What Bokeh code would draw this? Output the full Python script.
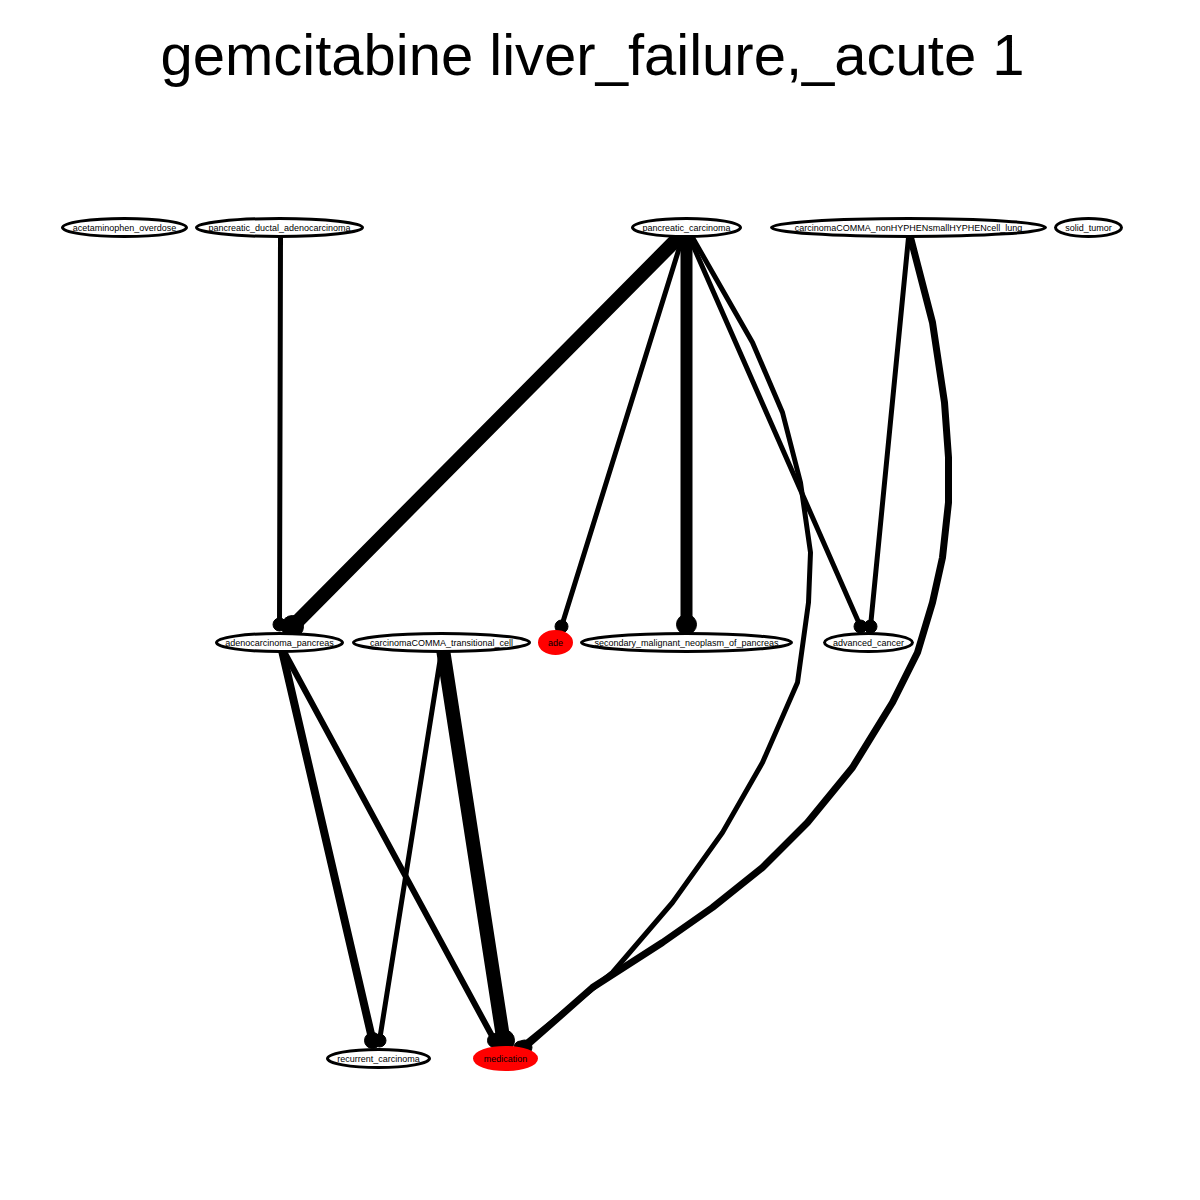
from bokeh.plotting import figure
from bokeh.models import Range1d
from bokeh.core.properties import value
from bokeh.embed import file_html
from bokeh.resources import INLINE

# nodes
names = ["acetaminophen_overdose", "pancreatic_ductal_adenocarcinoma", "pancreatic_carcinoma",
         "carcinomaCOMMA_nonHYPHENsmallHYPHENcell_lung", "solid_tumor", "adenocarcinoma_pancreas",
         "carcinomaCOMMA_transitional_cell", "ade", "secondary_malignant_neoplasm_of_pancreas",
         "advanced_cancer", "recurrent_carcinoma", "medication"]
node_x = [132, 287, 694, 916, 1096, 287, 449, 563, 694, 876, 386, 513]
node_y = [235, 235, 235, 235, 235, 650, 650, 650, 650, 650, 1066, 1066]
node_w = [124, 166, 108, 274, 66, 126, 176, 32, 210, 88, 102, 62]
node_red = [False] * 7 + [True] + [False] * 3 + [True]

# edges as path points (x list, y list) and weight
edge_xs = [
    [288, 287],
    [688, 300],
    [690, 569],
    [694, 694],
    [697, 868],
    [700, 760, 790, 808, 818, 816, 805, 770, 730, 680, 620, 528],
    [916, 878],
    [918, 940, 952, 956, 956, 950, 940, 925, 900, 860, 815, 770, 720, 670, 600, 532],
    [290, 380],
    [292, 502],
    [448, 387],
    [451, 511],
]
edge_ys = [
    [243, 632],
    [243, 634],
    [245, 634],
    [245, 632],
    [245, 634],
    [245, 350, 420, 490, 560, 610, 690, 770, 840, 910, 980, 1055],
    [245, 634],
    [245, 330, 410, 465, 510, 565, 610, 660, 710, 775, 830, 875, 915, 950, 995, 1055],
    [660, 1048],
    [660, 1048],
    [665, 1048],
    [660, 1048],
]
edge_w = [5, 14, 5, 12, 5, 5, 5, 7, 8, 6, 5, 14]

p = figure(width=1184, height=1184, output_backend="svg", toolbar_location=None,
           x_range=Range1d(8, 1192), y_range=Range1d(1192, 8), min_border=0)
p.axis.visible = False
p.grid.visible = False
p.outline_line_color = None

for xs, ys, w in zip(edge_xs, edge_ys, edge_w):
    p.line(xs, ys, line_width=w, line_color="black", line_cap="round", line_join="round")
    p.scatter([xs[-1]], [ys[-1]], size=w + 8, marker="circle", color="black")

fills = ["red" if r else "white" for r in node_red]
lines = ["red" if r else "black" for r in node_red]
p.ellipse(node_x, node_y, width=node_w, height=[22 if r else 18 for r in node_red],
          fill_color=fills, line_color=lines, line_width=3)
p.text(node_x, node_y, text=names, text_align="center", text_baseline="middle",
       text_font=value("Liberation Sans"), text_font_size="9px", text_color="black")

p.text([600], [62], text=["gemcitabine liver_failure,_acute 1"], text_align="center",
       text_baseline="middle", text_font=value("Liberation Sans"), text_font_size="58px")

open("out.html", "w").write(file_html(p, INLINE))
